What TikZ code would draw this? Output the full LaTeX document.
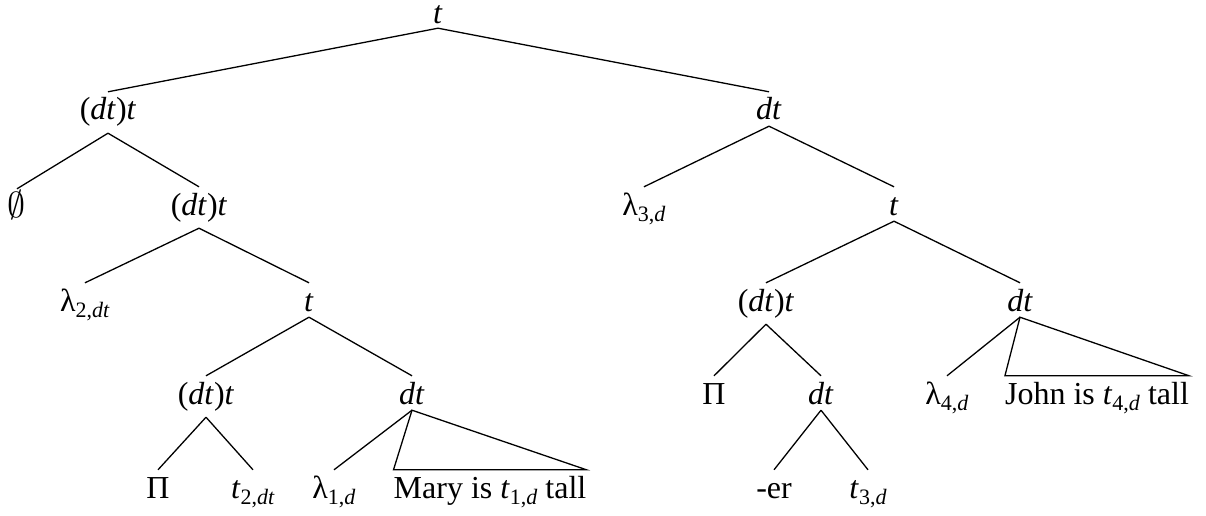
\documentclass[tikz,border=0pt]{standalone}
\usepackage{fontspec}
\setmainfont{Liberation Serif}
\newcommand{\mi}[1]{\textit{#1}}
\newcommand{\sbs}[1]{\raisebox{-0.2em}{\fontsize{22}{22}\selectfont #1}}
\begin{document}
\begin{tikzpicture}[x=1pt,y=-1pt,
  lab/.style={anchor=base, inner xsep=0pt, inner ysep=6pt, text height=22pt, text depth=0pt, font=\fontsize{32}{36}\selectfont},
  par/.style={lab, text depth=7pt},
  edge/.style={line width=1.3pt}]
\useasboundingbox (0,0) rectangle (1206,516);
% level 0
\node[lab, inner ysep=4pt, text height=20pt] (r) at (438,24) {\mi{t}};
% level 1
\node[par] (a) at (108,120) {(\mi{dt})\mi{t}};
\node[lab] (b) at (769,120) {\mi{dt}};
% level 2
\node[lab] (c) at (17,217) {\scalebox{1.45}{$\emptyset$}};
\node[par] (d) at (199,215) {(\mi{dt})\mi{t}};
\node[lab] (e) at (644,215) {λ\sbs{3,\mi{d}}};
\node[lab] (f) at (894,215) {\mi{t}};
% level 3
\node[lab] (g) at (85,311) {λ\sbs{2,\mi{dt}}};
\node[lab] (h) at (309,311) {\mi{t}};
\node[par] (i) at (766,311) {(\mi{dt})\mi{t}};
\node[lab] (j) at (1020,311) {\mi{dt}};
% level 4
\node[par] (k) at (206,404) {(\mi{dt})\mi{t}};
\node[lab] (l) at (412,404) {\mi{dt}};
\node[lab] (m) at (714,404) {Π};
\node[lab] (n) at (821,404) {\mi{dt}};
\node[lab] (o) at (947,404) {λ\sbs{4,\mi{d}}};
\node[lab] (p) at (1097,404) {John is \mi{t}\sbs{4,\mi{d}} tall};
% level 5
\node[lab] (q) at (158,498) {Π};
\node[lab] (s) at (253,498) {\mi{t}\sbs{2,\mi{dt}}};
\node[lab] (u) at (334,498) {λ\sbs{1,\mi{d}}};
\node[lab] (v) at (490,498) {Mary is \mi{t}\sbs{1,\mi{d}} tall};
\node[lab] (w) at (774,498) {-er};
\node[lab] (z) at (868,498) {\mi{t}\sbs{3,\mi{d}}};
% edges
\draw[edge] (r.south) -- (a.north);
\draw[edge] (r.south) -- (b.north);
\draw[edge] (a.south) -- (c.north);
\draw[edge] (a.south) -- (d.north);
\draw[edge] (b.south) -- (e.north);
\draw[edge] (b.south) -- (f.north);
\draw[edge] (d.south) -- (g.north);
\draw[edge] (d.south) -- (h.north);
\draw[edge] (f.south) -- (i.north);
\draw[edge] (f.south) -- (j.north);
\draw[edge] (h.south) -- (k.north);
\draw[edge] (h.south) -- (l.north);
\draw[edge] (i.south) -- (m.north);
\draw[edge] (i.south) -- (n.north);
\draw[edge] (j.south) -- (o.north);
\draw[edge] (j.south) -- (p.north west) -- (p.north east) -- cycle;
\draw[edge] (k.south) -- (q.north);
\draw[edge] (k.south) -- (s.north);
\draw[edge] (l.south) -- (u.north);
\draw[edge] (l.south) -- (v.north west) -- (v.north east) -- cycle;
\draw[edge] (n.south) -- (w.north);
\draw[edge] (n.south) -- (z.north);
\end{tikzpicture}
\end{document}
